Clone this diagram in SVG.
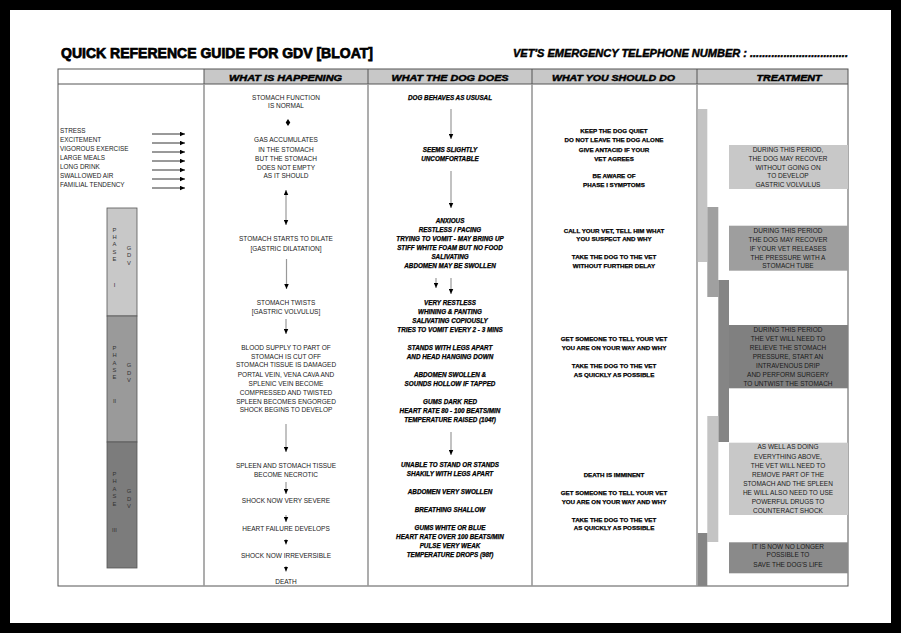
<svg xmlns="http://www.w3.org/2000/svg" width="901" height="633" viewBox="0 0 901 633">
<defs>
<marker id="ah" viewBox="0 0 10 10" refX="10" refY="5" markerWidth="5" markerHeight="5" markerUnits="userSpaceOnUse" orient="auto-start-reverse"><path d="M0,0.5 L10,5 L0,9.5 z" fill="#000"/></marker>
<style>
.t{font-family:"Liberation Sans",Arial,sans-serif;font-size:6.5px;fill:#1a1a1a;text-anchor:middle}
.l{font-family:"Liberation Sans",Arial,sans-serif;font-size:6.4px;fill:#222}
.bi{font-family:"Liberation Sans",Arial,sans-serif;font-size:6.3px;font-weight:bold;font-style:italic;fill:#000;text-anchor:middle;stroke:#000;stroke-width:0.25}
.b{font-family:"Liberation Sans",Arial,sans-serif;font-size:6.2px;font-weight:bold;fill:#000;text-anchor:middle;stroke:#000;stroke-width:0.25}
.h{font-family:"Liberation Sans",Arial,sans-serif;font-size:9px;font-weight:bold;font-style:italic;fill:#000;text-anchor:middle;stroke:#000;stroke-width:0.45}
.ph{font-family:"Liberation Sans",Arial,sans-serif;font-size:5.8px;fill:#333;text-anchor:middle}
.sh{stroke:#999;stroke-width:1.2;fill:none}
.ar{stroke:#000;stroke-width:0.8;fill:none}
.col{stroke:#999;stroke-width:1.6}
</style>
</defs>
<rect x="0" y="0" width="901" height="633" fill="#000"/>
<rect x="10" y="10" width="881" height="613" fill="#fff"/>

<g id="titles">
<text x="61" y="57.5" textLength="312" lengthAdjust="spacingAndGlyphs" style="font-family:'Liberation Sans',Arial,sans-serif;font-size:15px;font-weight:bold;fill:#000;stroke:#000;stroke-width:0.75">QUICK REFERENCE GUIDE FOR GDV [BLOAT]</text>
<text x="513" y="57.3" textLength="335" lengthAdjust="spacingAndGlyphs" style="font-family:'Liberation Sans',Arial,sans-serif;font-size:10.5px;font-weight:bold;font-style:italic;fill:#000;stroke:#000;stroke-width:0.45">VET'S EMERGENCY TELEPHONE NUMBER : ................................</text>
</g>

<g id="table">
<rect x="204" y="69" width="644" height="15" fill="#c8c8c8"/>
<rect x="58" y="69" width="790" height="517" fill="none" stroke="#555" stroke-width="1"/>
<line x1="58" y1="84" x2="848" y2="84" stroke="#555" stroke-width="1"/>
<g stroke="#555" stroke-width="1">
<line x1="204" y1="69" x2="204" y2="84"/>
<line x1="368" y1="69" x2="368" y2="84"/>
<line x1="532" y1="69" x2="532" y2="84"/>
<line x1="697" y1="69" x2="697" y2="84"/>
</g>
<line class="col" x1="204" y1="84" x2="204" y2="586"/>
<line class="col" x1="368" y1="84" x2="368" y2="586"/>
<line class="col" x1="532" y1="84" x2="532" y2="586"/>
<line class="col" x1="697" y1="84" x2="697" y2="586"/>
<text class="h" x="285.5" y="80.5" textLength="113" lengthAdjust="spacingAndGlyphs">WHAT IS HAPPENING</text>
<text class="h" x="450" y="80.5" textLength="117" lengthAdjust="spacingAndGlyphs">WHAT THE DOG DOES</text>
<text class="h" x="613.5" y="80.5" textLength="123" lengthAdjust="spacingAndGlyphs">WHAT YOU SHOULD DO</text>
<text class="h" x="789" y="80.5" textLength="65" lengthAdjust="spacingAndGlyphs">TREATMENT</text>
</g>

<g id="causes">
<text class="l" x="60" y="133.4">STRESS</text>
<text class="l" x="60" y="142.4">EXCITEMENT</text>
<text class="l" x="60" y="151.4">VIGOROUS EXERCISE</text>
<text class="l" x="60" y="160.4">LARGE MEALS</text>
<text class="l" x="60" y="169.4">LONG DRINK</text>
<text class="l" x="60" y="178.4">SWALLOWED AIR</text>
<text class="l" x="60" y="187.4">FAMILIAL TENDENCY</text>
</g>

<g id="phases">
<rect x="107" y="208" width="30" height="108" fill="#c8c8c8" stroke="#555" stroke-width="0.8"/>
<rect x="107" y="316" width="30" height="126" fill="#9a9a9a" stroke="#555" stroke-width="0.8"/>
<rect x="107" y="442" width="30" height="126" fill="#7c7c7c" stroke="#555" stroke-width="0.8"/>
<g class="ph">
<text x="114.5" y="231.5">P</text><text x="114.5" y="238.8">H</text><text x="114.5" y="246.2">A</text><text x="114.5" y="253.8">S</text><text x="114.5" y="261.2">E</text>
<text x="129" y="249.8">G</text><text x="129" y="257.2">D</text><text x="129" y="264.5">V</text>
<text x="114.5" y="286.5">I</text>
<text x="114.5" y="349.5">P</text><text x="114.5" y="356.9">H</text><text x="114.5" y="364.5">A</text><text x="114.5" y="371.9">S</text><text x="114.5" y="379.2">E</text>
<text x="129" y="367.2">G</text><text x="129" y="374.5">D</text><text x="129" y="382.2">V</text>
<text x="114.5" y="403.2">II</text>
<text x="114.5" y="475.5">P</text><text x="114.5" y="483.2">H</text><text x="114.5" y="490.5">A</text><text x="114.5" y="498.2">S</text><text x="114.5" y="505.5">E</text>
<text x="129" y="493.2">G</text><text x="129" y="500.5">D</text><text x="129" y="508.2">V</text>
<text x="114.5" y="532.2">III</text>
</g>
</g>

<g id="happening">
<text class="t" x="286" y="99.6">STOMACH FUNCTION</text>
<text class="t" x="286" y="108">IS NORMAL</text>
<text class="t" x="286" y="142.3">GAS ACCUMULATES</text>
<text class="t" x="286" y="151.6">IN THE STOMACH</text>
<text class="t" x="286" y="160.6">BUT THE STOMACH</text>
<text class="t" x="286" y="169.6">DOES NOT EMPTY</text>
<text class="t" x="286" y="178.3">AS IT SHOULD</text>
<text class="t" x="286" y="241.3">STOMACH STARTS TO DILATE</text>
<text class="t" x="286" y="250.6">[GASTRIC DILATATION]</text>
<text class="t" x="286" y="304.6">STOMACH TWISTS</text>
<text class="t" x="286" y="314">[GASTRIC VOLVULUS]</text>
<text class="t" x="286" y="350">BLOOD SUPPLY TO PART OF</text>
<text class="t" x="286" y="358.6">STOMACH IS CUT OFF</text>
<text class="t" x="286" y="367.3">STOMACH TISSUE IS DAMAGED</text>
<text class="t" x="286" y="376.6">PORTAL VEIN, VENA CAVA AND</text>
<text class="t" x="286" y="385.6">SPLENIC VEIN BECOME</text>
<text class="t" x="286" y="394.6">COMPRESSED AND TWISTED</text>
<text class="t" x="286" y="403.6">SPLEEN BECOMES ENGORGED</text>
<text class="t" x="286" y="412.3">SHOCK BEGINS TO DEVELOP</text>
<text class="t" x="286" y="468">SPLEEN AND STOMACH TISSUE</text>
<text class="t" x="286" y="476.6">BECOME NECROTIC</text>
<text class="t" x="286" y="503.3">SHOCK  NOW VERY SEVERE</text>
<text class="t" x="286" y="530.6">HEART FAILURE DEVELOPS</text>
<text class="t" x="286" y="557.6">SHOCK NOW IRREVERSIBLE</text>
<text class="t" x="286" y="584.4">DEATH</text>
</g>

<g id="dog-does">
<text class="bi" x="450" y="99.6">DOG BEHAVES AS USUSAL</text>
<text class="bi" x="450" y="151.6">SEEMS SLIGHTLY</text>
<text class="bi" x="450" y="160.6">UNCOMFORTABLE</text>
<text class="bi" x="450" y="223.3">ANXIOUS</text>
<text class="bi" x="450" y="232.3">RESTLESS / PACING</text>
<text class="bi" x="450" y="241.3">TRYING TO VOMIT - MAY BRING UP</text>
<text class="bi" x="450" y="250.3">STIFF WHITE FOAM BUT NO FOOD</text>
<text class="bi" x="450" y="259.3">SALIVATING</text>
<text class="bi" x="450" y="268.3">ABDOMEN MAY BE SWOLLEN</text>
<text class="bi" x="450" y="304.6">VERY RESTLESS</text>
<text class="bi" x="450" y="313.6">WHINING &amp; PANTING</text>
<text class="bi" x="450" y="322.6">SALIVATING COPIOUSLY</text>
<text class="bi" x="450" y="331.6">TRIES TO VOMIT EVERY 2 - 3 MINS</text>
<text class="bi" x="450" y="349.6">STANDS WITH LEGS APART</text>
<text class="bi" x="450" y="358.6">AND HEAD HANGING DOWN</text>
<text class="bi" x="450" y="376.6">ABDOMEN SWOLLEN &amp;</text>
<text class="bi" x="450" y="385.6">SOUNDS HOLLOW IF TAPPED</text>
<text class="bi" x="450" y="403.6">GUMS DARK RED</text>
<text class="bi" x="450" y="412.6">HEART RATE 80 - 100 BEATS/MIN</text>
<text class="bi" x="450" y="421.6">TEMPERATURE RAISED (104f)</text>
<text class="bi" x="450" y="467.3">UNABLE TO STAND OR STANDS</text>
<text class="bi" x="450" y="476.3">SHAKILY WITH LEGS APART</text>
<text class="bi" x="450" y="494.3">ABDOMEN VERY SWOLLEN</text>
<text class="bi" x="450" y="512.3">BREATHING SHALLOW</text>
<text class="bi" x="450" y="530.3">GUMS WHITE OR BLUE</text>
<text class="bi" x="450" y="539.3">HEART RATE OVER 100 BEATS/MIN</text>
<text class="bi" x="450" y="548.3">PULSE VERY WEAK</text>
<text class="bi" x="450" y="557.3">TEMPERATURE DROPS (98f)</text>
</g>

<g id="should-do">
<text class="b" x="614" y="133.3">KEEP THE DOG QUIET</text>
<text class="b" x="614" y="142.3">DO NOT LEAVE THE DOG ALONE</text>
<text class="b" x="614" y="151.6">GIVE ANTACID IF YOUR</text>
<text class="b" x="614" y="160.6">VET AGREES</text>
<text class="b" x="614" y="178.3">BE AWARE OF</text>
<text class="b" x="614" y="187.3">PHASE I SYMPTOMS</text>
<text class="b" x="614" y="232.6">CALL YOUR VET, TELL HIM WHAT</text>
<text class="b" x="614" y="241.3">YOU SUSPECT AND WHY</text>
<text class="b" x="614" y="259.3">TAKE THE DOG TO THE VET</text>
<text class="b" x="614" y="268.3">WITHOUT FURTHER DELAY</text>
<text class="b" x="614" y="341">GET SOMEONE TO TELL YOUR VET</text>
<text class="b" x="614" y="350">YOU ARE ON YOUR WAY AND WHY</text>
<text class="b" x="614" y="368">TAKE THE DOG TO THE VET</text>
<text class="b" x="614" y="377">AS QUICKLY AS POSSIBLE</text>
<text class="b" x="614" y="476.6">DEATH IS IMMINENT</text>
<text class="b" x="614" y="494.6">GET SOMEONE TO TELL YOUR VET</text>
<text class="b" x="614" y="503.6">YOU ARE ON YOUR WAY AND WHY</text>
<text class="b" x="614" y="521.6">TAKE THE DOG TO THE VET</text>
<text class="b" x="614" y="530.3">AS QUICKLY AS POSSIBLE</text>
</g>

<g id="treatment-bars">
<rect x="697.8" y="109" width="9.5" height="153" fill="#c4c4c4"/>
<rect x="707.3" y="207" width="11" height="90" fill="#a0a0a0"/>
<rect x="718.3" y="280" width="10.7" height="162" fill="#858585"/>
<rect x="707.3" y="416" width="11" height="126" fill="#c4c4c4"/>
<rect x="697.8" y="533" width="9.5" height="53" fill="#858585"/>
</g>

<g id="treatment-1">
<rect x="729" y="145" width="119" height="44" fill="#c8c8c8"/>
<text class="t" x="788" y="152.3">DURING THIS PERIOD,</text>
<text class="t" x="788" y="160.6">THE DOG MAY RECOVER</text>
<text class="t" x="788" y="169.6">WITHOUT GOING ON</text>
<text class="t" x="788" y="178.3">TO DEVELOP</text>
<text class="t" x="788" y="187.3">GASTRIC VOLVULUS</text>
</g>
<g id="treatment-2">
<rect x="729" y="225.7" width="119" height="45" fill="#9e9e9e"/>
<text class="t" x="788" y="233">DURING THIS PERIOD</text>
<text class="t" x="788" y="241.6">THE DOG MAY RECOVER</text>
<text class="t" x="788" y="250.6">IF YOUR VET RELEASES</text>
<text class="t" x="788" y="259.6">THE PRESSURE WITH A</text>
<text class="t" x="788" y="268.3">STOMACH TUBE</text>
</g>
<g id="treatment-3">
<rect x="729" y="325" width="119" height="63.3" fill="#808080"/>
<text class="t" x="788" y="331.6">DURING THIS PERIOD</text>
<text class="t" x="788" y="341">THE VET WILL NEED TO</text>
<text class="t" x="788" y="350">RELIEVE THE STOMACH</text>
<text class="t" x="788" y="359">PRESSURE, START AN</text>
<text class="t" x="788" y="367.6">INTRAVENOUS DRIP</text>
<text class="t" x="788" y="376.6">AND PERFORM SURGERY</text>
<text class="t" x="788" y="385.6">TO UNTWIST THE STOMACH</text>
</g>
<g id="treatment-4">
<rect x="729" y="442.7" width="119" height="72.3" fill="#c8c8c8"/>
<text class="t" x="788" y="449.3">AS WELL AS DOING</text>
<text class="t" x="788" y="458.6">EVERYTHING ABOVE,</text>
<text class="t" x="788" y="467.6">THE VET WILL NEED TO</text>
<text class="t" x="788" y="476.6">REMOVE PART OF THE</text>
<text class="t" x="788" y="485.6">STOMACH AND THE SPLEEN</text>
<text class="t" x="788" y="495">HE WILL ALSO NEED TO USE</text>
<text class="t" x="788" y="504">POWERFUL DRUGS TO</text>
<text class="t" x="788" y="512.6">COUNTERACT SHOCK</text>
</g>
<g id="treatment-5">
<rect x="729" y="542.3" width="119" height="31" fill="#8a8a8a"/>
<text class="t" x="788" y="548.6">IT IS NOW NO LONGER</text>
<text class="t" x="788" y="557.3">POSSIBLE TO</text>
<text class="t" x="788" y="566.6">SAVE THE DOG'S LIFE</text>
</g>

<g id="connectors">
<line class="ar" x1="152" y1="134" x2="185" y2="134" marker-end="url(#ah)"/>
<line class="ar" x1="152" y1="143" x2="185" y2="143" marker-end="url(#ah)"/>
<line class="ar" x1="152" y1="152" x2="185" y2="152" marker-end="url(#ah)"/>
<line class="ar" x1="152" y1="161" x2="185" y2="161" marker-end="url(#ah)"/>
<line class="ar" x1="152" y1="170" x2="185" y2="170" marker-end="url(#ah)"/>
<line class="ar" x1="152" y1="179" x2="185" y2="179" marker-end="url(#ah)"/>
<line class="ar" x1="152" y1="188" x2="185" y2="188" marker-end="url(#ah)"/>
<path d="M288,119 L290.3,122.5 L285.7,122.5 Z M288,126 L290.3,122.5 L285.7,122.5 Z" fill="#000"/>
<line class="sh" x1="286" y1="190" x2="286" y2="225" marker-start="url(#ah)" marker-end="url(#ah)"/>
<line class="sh" x1="286.5" y1="259" x2="286.5" y2="289" marker-end="url(#ah)"/>
<line class="sh" x1="286" y1="319" x2="286" y2="334" marker-end="url(#ah)"/>
<line class="sh" x1="286" y1="424" x2="286" y2="452" marker-end="url(#ah)"/>
<line class="sh" x1="286" y1="482" x2="286" y2="494" marker-end="url(#ah)"/>
<line class="sh" x1="286" y1="515" x2="286" y2="522" marker-end="url(#ah)"/>
<line class="sh" x1="286" y1="539" x2="286" y2="544.5" marker-end="url(#ah)"/>
<line class="sh" x1="286" y1="566" x2="286" y2="571.5" marker-end="url(#ah)"/>
<line class="sh" x1="451" y1="109" x2="451" y2="139" marker-end="url(#ah)"/>
<line class="sh" x1="451" y1="171" x2="451" y2="208" marker-end="url(#ah)"/>
<line class="sh" x1="436" y1="278" x2="436" y2="288" marker-end="url(#ah)"/>
<line class="sh" x1="451" y1="278" x2="451" y2="294" marker-end="url(#ah)"/>
<line class="sh" x1="451" y1="432" x2="451" y2="455" marker-end="url(#ah)"/>
</g>
</svg>
